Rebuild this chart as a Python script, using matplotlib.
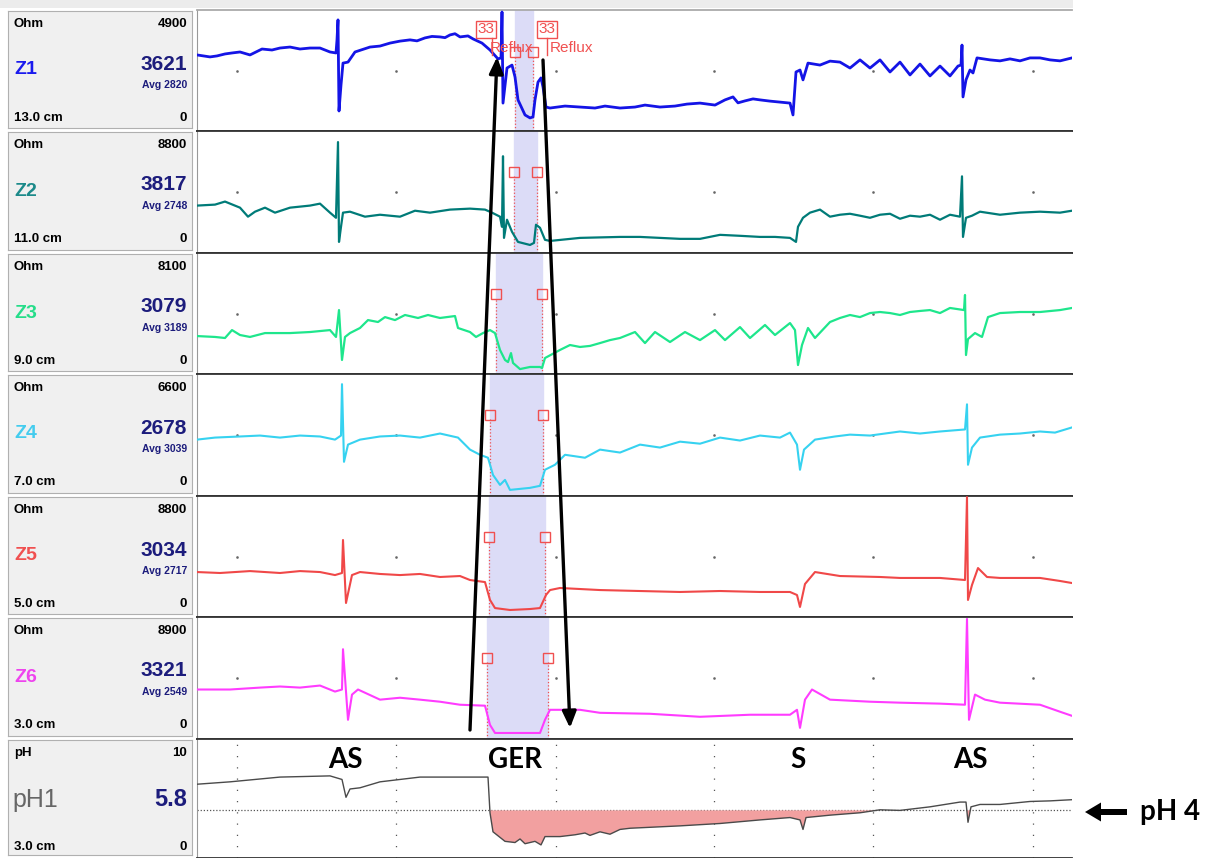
# -----------
# > Imports <
# -----------
import matplotlib.pyplot as plt
from matplotlib.patches import Rectangle, FancyArrow

plt.rcParams['font.family'] = ['Liberation Sans', 'DejaVu Sans']


# ----------
# > Data  <
# ----------
# time axis in samples (0..875), impedance in Ohm, pH in pH units
z1_t = [0, 13, 20, 28, 35, 43, 53, 65, 75, 83, 93, 103, 113, 123, 133, 139, 140, 141, 142, 144,
        146, 151, 158, 173, 183, 193, 203, 213, 220, 228, 235, 243, 248, 253, 258, 263, 271, 276, 285, 293,
        301, 304, 305, 306, 310, 315, 318, 321, 328, 333, 336, 338, 341, 344, 346, 349, 353, 368, 383, 398,
        408, 423, 438, 448, 463, 478, 490, 503, 518, 528, 536, 541, 548, 556, 563, 573, 583, 593, 596, 599,
        603, 606, 611, 623, 633, 643, 653, 663, 673, 683, 693, 703, 713, 723, 733, 743, 753, 761, 764, 765,
        766, 769, 773, 776, 780, 793, 803, 813, 823, 833, 843, 853, 863, 875]
z1_v = [3080, 3000, 3040, 3120, 3160, 3200, 3080, 3320, 3280, 3360, 3400, 3320, 3360, 3360, 3200, 3160, 3690, 4500, 810, 1860,
        2750, 2790, 3200, 3400, 3440, 3560, 3640, 3690, 3650, 3770, 3830, 3810, 3780, 3890, 3940, 3810, 3850, 3730, 3560, 3280,
        2920, 2960, 4820, 1130, 2550, 2670, 2190, 1260, 650, 530, 570, 1260, 1980, 2150, 1780, 970, 930, 1010, 970, 930,
        1010, 930, 970, 1050, 970, 1010, 1090, 1130, 1050, 1260, 1380, 1140, 1220, 1300, 1260, 1210, 1170, 1130, 650, 2390,
        2470, 2070, 2750, 2670, 2830, 2790, 2550, 2880, 2550, 2880, 2390, 2790, 2270, 2710, 2230, 2630, 2230, 2630, 2670, 3480,
        1380, 2070, 2470, 2350, 2960, 2880, 2840, 2920, 2840, 2960, 2960, 2880, 2840, 2960]

z2_t = [0, 18, 28, 43, 51, 58, 68, 78, 93, 113, 123, 133, 139, 141, 142, 144, 146, 153, 168, 183,
        203, 218, 233, 253, 273, 288, 295, 303, 305, 306, 307, 310, 315, 321, 333, 337, 339, 343, 348, 353,
        383, 423, 443, 463, 483, 503, 523, 543, 563, 578, 593, 599, 601, 606, 613, 623, 633, 643, 653, 663,
        673, 683, 693, 703, 713, 723, 733, 743, 753, 763, 765, 766, 769, 775, 783, 803, 823, 843, 863, 875]
z2_v = [3420, 3490, 3710, 3270, 2620, 2980, 3270, 2910, 3270, 3420, 3560, 2910, 2540, 8000, 800, 1890, 2910, 2980, 2620, 2760,
        2620, 3050, 2910, 3130, 3200, 3130, 2910, 2620, 1890, 6980, 1090, 2400, 1530, 800, 580, 730, 2040, 1820, 950, 870,
        1090, 1160, 1160, 1090, 1020, 1020, 1310, 1240, 1160, 1160, 1090, 800, 1890, 2540, 2910, 3130, 2620, 2760, 2830, 2690,
        2540, 2760, 2830, 2470, 2690, 2620, 2760, 2400, 2760, 2620, 5530, 1160, 2540, 2690, 2980, 2760, 2910, 2980, 2910, 3050]

z3_t = [0, 18, 28, 35, 43, 53, 68, 93, 113, 133, 139, 142, 145, 148, 153, 163, 171, 181, 188, 198,
        208, 221, 231, 243, 258, 261, 273, 279, 286, 293, 298, 303, 308, 311, 314, 316, 323, 333, 343, 345,
        348, 363, 373, 383, 393, 403, 413, 423, 438, 448, 458, 473, 488, 503, 518, 528, 543, 553, 568, 578,
        593, 598, 601, 605, 611, 618, 633, 643, 653, 663, 673, 683, 693, 703, 713, 723, 733, 743, 753, 767,
        768, 769, 771, 778, 785, 791, 803, 823, 843, 863, 875]
z3_v = [2540, 2480, 2410, 2940, 2610, 2480, 2740, 2740, 2810, 2940, 2480, 4280, 940, 2480, 2740, 3080, 3610, 3480, 3810, 3610,
        3950, 3750, 3950, 3750, 3880, 3080, 2810, 2480, 2740, 2940, 2740, 1610, 940, 800, 1400, 740, 330, 470, 470, 400,
        1070, 1610, 1940, 1810, 1880, 2070, 2270, 2410, 2810, 2070, 2810, 2140, 2810, 2270, 2940, 2270, 3140, 2410, 3280, 2610,
        3410, 2940, 600, 1940, 3080, 2410, 3480, 3750, 3950, 3810, 4080, 4150, 4080, 3950, 4150, 4220, 4280, 4080, 4420, 4280,
        5290, 1270, 2340, 2740, 2480, 3810, 4080, 4150, 4150, 4280, 4420]

z4_t = [0, 18, 43, 63, 83, 103, 123, 138, 144, 145, 147, 151, 163, 183, 203, 223, 243, 261, 273, 283,
        291, 296, 303, 308, 313, 333, 343, 348, 358, 368, 388, 403, 423, 443, 463, 483, 503, 523, 543, 563,
        583, 593, 600, 603, 607, 618, 638, 653, 673, 703, 723, 743, 768, 770, 771, 775, 783, 803, 823, 843,
        858, 875]
z4_v = [3050, 3160, 3220, 3270, 3160, 3270, 3220, 3050, 3270, 6050, 1850, 2780, 3050, 3220, 3270, 3160, 3380, 3160, 2510, 2230,
        2070, 1140, 600, 870, 330, 440, 550, 1420, 1690, 2230, 2070, 2510, 2350, 2780, 2620, 2940, 2830, 3160, 3000, 3270,
        3160, 3430, 2780, 1420, 2510, 3050, 3220, 3320, 3270, 3490, 3380, 3490, 3600, 4960, 1690, 2620, 3160, 3320, 3380, 3490,
        3430, 3710]

z5_t = [0, 23, 53, 83, 103, 123, 138, 145, 146, 149, 155, 163, 183, 203, 223, 243, 263, 273, 288, 293,
        298, 313, 333, 343, 349, 353, 363, 403, 443, 483, 523, 563, 593, 600, 603, 608, 618, 643, 683, 703,
        743, 768, 770, 771, 775, 781, 790, 803, 843, 863, 875]
z5_v = [3270, 3200, 3340, 3200, 3340, 3270, 3050, 3200, 5600, 1020, 3050, 3270, 3130, 3050, 3130, 2910, 2980, 2690, 2540, 1240,
        650, 510, 580, 650, 1600, 1960, 2110, 1960, 1890, 1820, 1890, 1820, 1820, 1600, 730, 2400, 3270, 2980, 2910, 2840,
        2840, 2690, 8720, 1240, 2330, 3560, 2910, 2840, 2840, 2620, 2470]

z6_t = [0, 33, 63, 83, 103, 123, 138, 145, 146, 151, 155, 161, 183, 203, 223, 243, 263, 288, 293, 298,
        343, 348, 353, 383, 403, 453, 503, 553, 593, 600, 603, 608, 615, 633, 673, 703, 743, 768, 770, 772,
        778, 788, 803, 843, 863, 875]
z6_v = [3610, 3610, 3750, 3830, 3750, 3900, 3460, 3610, 6550, 1400, 3240, 3610, 2870, 3010, 2870, 2720, 2500, 2430, 1030, 440,
        440, 1400, 2130, 2130, 1910, 1840, 1620, 1770, 1770, 2130, 810, 2870, 3610, 2870, 2720, 2650, 2580, 2500, 8760, 1400,
        3240, 2870, 2650, 2500, 1990, 1690]

ph_t = [0, 33, 83, 133, 145, 149, 153, 163, 183, 203, 223, 253, 291, 293, 296, 308, 318, 323, 328, 333,
        338, 344, 348, 363, 378, 388, 393, 403, 413, 423, 433, 483, 523, 563, 593, 603, 606, 609, 633, 663,
        683, 703, 733, 763, 769, 771, 774, 783, 803, 833, 853, 875]
ph_v = [6.2, 6.4, 6.8, 6.9, 6.6, 5.1, 5.8, 5.9, 6.4, 6.6, 6.8, 6.8, 6.8, 3.8, 2.2, 1.4, 1.3, 1.6, 1.2, 1.3,
        1.4, 1.1, 1.8, 1.8, 1.95, 2.1, 1.9, 2.2, 2.0, 2.4, 2.5, 2.7, 2.9, 3.2, 3.4, 3.2, 2.4, 3.4, 3.6, 3.8,
        4.05, 4.0, 4.3, 4.7, 4.7, 3.0, 4.3, 4.5, 4.5, 4.75, 4.8, 4.9]

names = ['Z1', 'Z2', 'Z3', 'Z4', 'Z5', 'Z6', 'pH1']
units = ['Ohm', 'Ohm', 'Ohm', 'Ohm', 'Ohm', 'Ohm', 'pH']
scale_max = [4900, 8800, 8100, 6600, 8800, 8900, 10]
current = ['3621', '3817', '3079', '2678', '3034', '3321', '5.8']
averages = ['Avg 2820', 'Avg 2748', 'Avg 3189', 'Avg 3039', 'Avg 2717', 'Avg 2549', '']
positions = ['13.0 cm', '11.0 cm', '9.0 cm', '7.0 cm', '5.0 cm', '3.0 cm', '3.0 cm']

# bolus passage window per impedance channel (samples)
reflux_start = [318, 317, 299, 293, 292, 290]
reflux_end = [336, 340, 345, 346, 348, 351]

grid_t = [40, 199, 359, 517, 676, 836]
event_t = [148, 318, 601, 773]
event_names = ['AS', 'GER', 'S', 'AS']
ph_threshold = 4

traces = [(z1_t, z1_v), (z2_t, z2_v), (z3_t, z3_v), (z4_t, z4_v), (z5_t, z5_v), (z6_t, z6_v), (ph_t, ph_v)]
line_colors = ['#1414e6', '#007b78', '#1ee68c', '#36d2f0', '#f04848', '#ff3cff', '#4a4a4a']
label_colors = ['#1a1aee', '#1c8a8a', '#26dd8a', '#44ccee', '#f05050', '#ee44ee', '#666666']
line_widths = [2.0, 1.6, 1.6, 1.5, 1.5, 1.5, 1.0]


# ------------
# > Layout   <
# ------------
W, H = 1219, 858
row_edges = [10, 131, 253, 374, 496, 617, 739, 858]
NAVY = '#1c1c7c'
RED = '#f05050'

fig = plt.figure(figsize=(W / 100, H / 100), dpi=100)


def px_axes(x0, y0, x1, y1):
    return fig.add_axes([x0 / W, 1 - y1 / H, (x1 - x0) / W, (y1 - y0) / H])


axes = []
for i, name in enumerate(names):
    y0, y1 = row_edges[i], row_edges[i + 1]

    # trace area
    ax = px_axes(197, y0, 1072, y1)
    ax.set_xlim(0, 875)
    ax.set_ylim(0, scale_max[i])
    ax.set_xticks([])
    ax.set_yticks([])
    ax.spines['right'].set_visible(False)
    ax.spines['left'].set_color('#999999')
    for s in ['top', 'bottom']:
        ax.spines[s].set_color('#333333')
        ax.spines[s].set_linewidth(1.3)
    if i == 0:
        ax.spines['top'].set_color('#aaaaaa')

    t, v = traces[i]
    ax.plot(t, v, color=line_colors[i], lw=line_widths[i], zorder=3)

    if i < 6:
        # grid dots
        ax.plot(grid_t, [0.5] * len(grid_t), transform=ax.get_xaxis_transform(),
                ls='none', marker='s', ms=0.8, color='#666666')
        # reflux window
        a, b = reflux_start[i], reflux_end[i]
        mh = 0.65 if i == 0 else 0.66
        ax.axvspan(a, b, color='#dcdcf7', zorder=0)
        for x in (a, b):
            ax.axvline(x, ymin=0, ymax=mh - 0.03, ls=':', color=RED, lw=0.9, zorder=2)
        ax.plot([a, b], [mh, mh], transform=ax.get_xaxis_transform(), ls='none',
                marker='s', ms=6.5, mfc='none', mec=RED, mew=1, zorder=4)
    else:
        for g in grid_t:
            ax.axvline(g, ls=(0, (1, 8)), color='#555555', lw=0.9, zorder=1)
        ax.axhline(ph_threshold, ls=(0, (1, 1.5)), color='#555555', lw=0.9, zorder=1)
        ax.fill_between(t, v, ph_threshold, where=[p < ph_threshold for p in v],
                        interpolate=True, color='#f2a0a0', lw=0, zorder=2)
        for et, en in zip(event_t, event_names):
            ax.text(et, 0.82, en, transform=ax.get_xaxis_transform(), ha='center', va='center',
                    fontsize=20, fontweight='bold', family=['Lato', 'DejaVu Sans'], zorder=5)
    axes.append(ax)

    # label panel
    lab = px_axes(8, y0 + 1, 192, y1 - 3)
    lab.set_xlim(8, 192)
    lab.set_ylim(y1 - y0 - 3, 1)
    lab.set_facecolor('#f0f0f0')
    lab.set_xticks([])
    lab.set_yticks([])
    for s in lab.spines.values():
        s.set_color('#b0b0b0')
    lab.text(14, 14, units[i], ha='left', va='center', fontsize=9.5, fontweight='bold')
    lab.text(187, 14, str(scale_max[i]), ha='right', va='center', fontsize=9.5, fontweight='bold')
    lab.text(14, 108, positions[i], ha='left', va='center', fontsize=9.5, fontweight='bold')
    lab.text(187, 108, '0', ha='right', va='center', fontsize=9.5, fontweight='bold')
    if i < 6:
        lab.text(14, 60, name, ha='left', va='center', fontsize=14, fontweight='bold', color=label_colors[i])
        lab.text(187, 54, current[i], ha='right', va='center', fontsize=15, fontweight='bold', color=NAVY)
        lab.text(187, 75, averages[i], ha='right', va='center', fontsize=7.5, fontweight='bold', color=NAVY)
    else:
        lab.text(12, 61, name, ha='left', va='center', fontsize=18, color=label_colors[i])
        lab.text(187, 61, current[i], ha='right', va='center', fontsize=17, fontweight='bold', color=NAVY)

# reflux tags on Z1
z1 = axes[0]
for bt, tick_t, txt_t in [(289, 295, 293), (350, 350, 353)]:
    z1.text(bt, 0.84, '33', transform=z1.get_xaxis_transform(), ha='center', va='center',
            fontsize=11, color=RED, zorder=6,
            bbox=dict(boxstyle='square,pad=0.12', fc='white', ec=RED, lw=1))
    z1.axvline(tick_t, ymin=0.63, ymax=0.77, color=RED, lw=1, zorder=6)
    z1.text(txt_t, 0.69, 'Reflux', transform=z1.get_xaxis_transform(), ha='left', va='center',
            fontsize=11, color=RED, zorder=6)


# --------------
# > Overlay    <
# --------------
ov = fig.add_axes([0, 0, 1, 1])
ov.set_xlim(0, W)
ov.set_ylim(H, 0)
ov.axis('off')
ov.patch.set_alpha(0)

ov.add_patch(Rectangle((0, 0), 1073, 8, color='#ececec', lw=0))

# bolus direction arrows
arrow_kw = dict(arrowstyle='-|>,head_length=0.7,head_width=0.3', lw=2.4, color='black',
                shrinkA=0, shrinkB=0, mutation_scale=14)
ov.annotate('', xy=(497, 57), xytext=(470, 730), arrowprops=arrow_kw)
ov.annotate('', xy=(570, 728), xytext=(543, 60), arrowprops=arrow_kw)

# pH 4 marker
ov.add_patch(FancyArrow(1127, 812, -42, 0, width=6, head_width=19, head_length=16,
                        length_includes_head=True, color='black', lw=0))
ov.text(1140, 812, 'pH 4', ha='left', va='center', fontsize=20, fontweight='bold',
        family=['Lato', 'DejaVu Sans'])

fig.savefig('out.png', dpi=100)
